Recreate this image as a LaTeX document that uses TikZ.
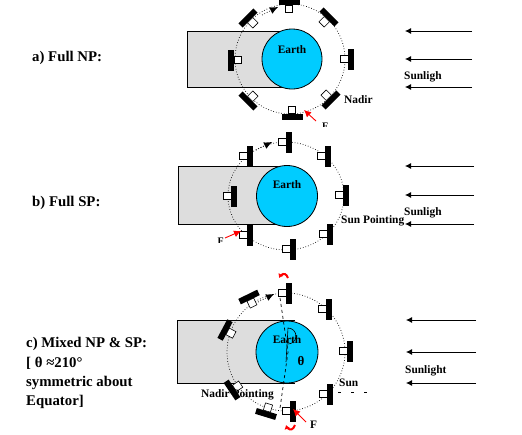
\documentclass[tikz,border=0pt]{standalone}
\usepackage{fontspec}
\setmainfont{Liberation Serif}
\usetikzlibrary{arrows.meta,bending}
\definecolor{earthblue}{RGB}{0,204,255}
\definecolor{shadow}{RGB}{221,221,221}
\definecolor{redarrow}{RGB}{255,0,0}
\tikzset{
  x=1pt,y=-1pt,
  shadowbox/.style={draw=black,line width=0.9pt,fill=shadow},
  earthdisc/.style={circle,draw=black,line width=0.8pt,fill=earthblue,inner sep=0pt,minimum size=#1},
  orbitline/.style={line width=0.7pt,dotted},
  sunray/.style={line width=0.8pt,-{Latex[length=6pt,width=6pt]}},
  redtip/.style={draw=redarrow,line width=0.9pt,-{Latex[length=7pt,width=7pt]}},
  blacktip/.style={line width=0.7pt,dotted,-{Latex[length=8pt,width=7pt,sep=0pt,line width=0pt]}},
  curvedred/.style={draw=redarrow,line width=2pt,-{Latex[length=4pt,width=6pt,flex=0]}},
  lab/.style={font=\bfseries\fontsize{14.8}{16}\selectfont,inner sep=0pt,anchor=west},
  smalllab/.style={font=\bfseries\fontsize{11.4}{13}\selectfont,inner sep=0pt,anchor=west},
  cutlab/.style={font=\bfseries\fontsize{10}{12}\selectfont,inner sep=0pt,anchor=north west},
  earthlab/.style={font=\bfseries\fontsize{11.4}{13}\selectfont,inner sep=0pt},
}
% centre x, centre y, rotation (0 = body to the left of the panel)
\newcommand{\satbox}[3]{%
  \begin{scope}[shift={(#1,#2)},rotate=#3]
    \fill[black] (-3,-10.5) rectangle (3,10.5);
    \draw[fill=white,line width=0.6pt] (-10.5,-3.7) rectangle (-3,3.7);
  \end{scope}}
\begin{document}
\begin{tikzpicture}
\useasboundingbox (0,0) rectangle (522,434);
\fill[white] (0,0) rectangle (522,434);

% ---------- a
\draw[shadowbox] (295,31) -- (187,31) -- (187,87) -- (295,87);
\node[earthdisc=60pt] (earthA) at (292,59) {};
\draw[orbitline] (290,59) circle (55);
\satbox{289}{2}{90}
\satbox{248}{18}{135}
\satbox{329}{17}{45}
\satbox{231}{60}{180}
\satbox{351}{59}{0}
\satbox{248}{101}{-135}
\satbox{331}{100}{-45}
\satbox{292}{116.5}{-90}
\coordinate (aT1) at (262,15); \coordinate (aT2) at (278,7);
\draw[blacktip] (aT1) -- (aT2);
\coordinate (aR1) at (316,121); \coordinate (aR2) at (304,110);
\draw[redtip] (aR1) -- (aR2);
\node[earthlab] (aE) at (292,50) {Earth};
\node[smalllab] (aN) at (344,100) {Nadir};
\begin{scope}
  \clip (320,121) rectangle (330,126);
  \node[cutlab] (aF) at (322,122.5) {F};
\end{scope}
\node[smalllab] (aS) at (404,77) {Sunligh};
\coordinate (a1) at (472,31); \coordinate (a1e) at (405,31);
\coordinate (a2) at (472,59); \coordinate (a2e) at (405,59);
\coordinate (a3) at (472,87); \coordinate (a3e) at (405,87);
\draw[sunray] (a1) -- (a1e);
\draw[sunray] (a2) -- (a2e);
\draw[sunray] (a3) -- (a3e);
\node[lab] (aL) at (32,58) {a) Full NP:};

% ---------- b
\draw[shadowbox] (295,166) -- (178,166) -- (178,224) -- (295,224);
\node[earthdisc=61pt] (earthB) at (287,196) {};
\draw[orbitline] (286,196) ellipse (58 and 54);
\satbox{250}{156}{0}
\satbox{289}{142}{0}
\satbox{328}{156}{0}
\satbox{346}{195}{0}
\satbox{330}{234}{0}
\satbox{293}{249}{0}
\satbox{250}{235}{0}
\satbox{234}{196}{0}
\coordinate (bT1) at (256,150); \coordinate (bT2) at (272,142);
\draw[blacktip] (bT1) -- (bT2);
\coordinate (bR1) at (225,238); \coordinate (bR2) at (241,231);
\draw[redtip] (bR1) -- (bR2);
\node[earthlab] (bE) at (287,185) {Earth};
\node[smalllab] (bN) at (341,221) {Sun Pointing};
\begin{scope}
  \clip (216,237) rectangle (226,242);
  \node[cutlab] (bF) at (217.5,238) {F};
\end{scope}
\node[smalllab] (bS) at (404,213) {Sunligh};
\coordinate (b1) at (474,166); \coordinate (b1e) at (405,166);
\coordinate (b2) at (474,195); \coordinate (b2e) at (405,195);
\coordinate (b3) at (474,224); \coordinate (b3e) at (405,224);
\draw[sunray] (b1) -- (b1e);
\draw[sunray] (b2) -- (b2e);
\draw[sunray] (b3) -- (b3e);
\node[lab] (bL) at (32,203) {b) Full SP:};

% ---------- c
\draw[shadowbox] (295,320) -- (177,320) -- (177,383) -- (295,383);
\node[earthdisc=62pt] (earthC) at (287,352) {};
\draw[orbitline] (286,352) circle (59);
\coordinate (cD0) at (280,298); \coordinate (cD2) at (288,352);
\coordinate (cD4) at (280,408);
\draw[dashed,line width=0.7pt] (cD0) -- (cD2) -- (cD4);
\satbox{289}{293}{0}
\satbox{329}{309}{0}
\satbox{350}{351}{0}
\satbox{330}{394}{0}
\satbox{293}{411}{0}
\satbox{249}{297}{116}
\satbox{225}{330}{152}
\satbox{232}{390}{-146}
\satbox{266}{414}{-107}
\coordinate (cT1) at (258,302); \coordinate (cT2) at (274,294);
\draw[blacktip] (cT1) -- (cT2);
\coordinate (cR1) at (306,422); \coordinate (cR2) at (293,409);
\draw[redtip] (cR1) -- (cR2);
\coordinate (cA1) at (279,278); \coordinate (cA2) at (288,278);
\draw[curvedred] (cA2) .. controls (286,272.5) and (282,272.5) .. (cA1);
\coordinate (cB1) at (295,425); \coordinate (cB2) at (286,425);
\draw[curvedred] (cB1) .. controls (293,431) and (288,431) .. (cB2);
\draw[line width=0.6pt] (288,344) arc (90:-90:8) -- (286,362);
\node[earthlab] (cE) at (287,340) {Earth};
\node[font=\bfseries\fontsize{13}{15}\selectfont,inner sep=0pt] (cTh) at (301,361) {θ};
\node[smalllab] (cN) at (201,395) {Nadir Pointing};
\node[smalllab] (cSu) at (339,383) {Sun};
\draw[line width=0.7pt,dash pattern=on 3pt off 10pt] (338,392.5) -- (368,392.5);
\node[smalllab] (cF) at (310,425) {F};
\node[smalllab] (cS) at (405,371) {Sunlight};
\coordinate (c1) at (476,320); \coordinate (c1e) at (406,320);
\coordinate (c2) at (476,352); \coordinate (c2e) at (406,352);
\coordinate (c3) at (476,383); \coordinate (c3e) at (406,383);
\draw[sunray] (c1) -- (c1e);
\draw[sunray] (c2) -- (c2e);
\draw[sunray] (c3) -- (c3e);
\node[lab] (cL1) at (26,344) {c) Mixed NP \& SP:};
\node[lab] (cL2) at (26,363) {[ θ ≈210°};
\node[lab] (cL3) at (26,383) {symmetric about};
\node[lab] (cL4) at (26,402) {Equator]};
\end{tikzpicture}
\end{document}
